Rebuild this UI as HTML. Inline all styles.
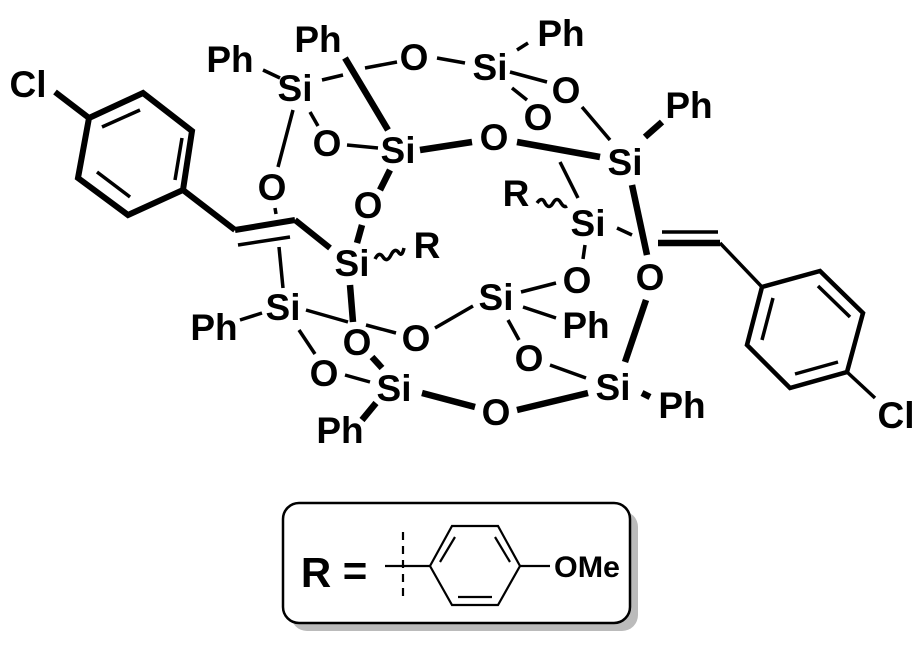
<!DOCTYPE html>
<html><head><meta charset="utf-8"><style>
html,body{margin:0;padding:0;background:#fff;}
svg{display:block;}
text{font-family:"Liberation Sans",sans-serif;font-weight:bold;fill:#000;text-anchor:middle;}
</style></head><body>
<svg width="923" height="645" viewBox="0 0 923 645" xmlns="http://www.w3.org/2000/svg">
<g stroke="#000" stroke-linecap="butt" fill="none">
<g stroke-width="6">
<line x1="55" y1="92" x2="89" y2="118"/>
<polyline points="89,118 143,93 192,131 183,190 128,215 78,178 89,118"/>
<line x1="183" y1="190" x2="235" y2="230"/>
<line x1="235" y1="230" x2="295" y2="220"/>
<line x1="295" y1="220" x2="330" y2="248"/>
</g>
<g stroke-width="3.5">
<line x1="102" y1="127" x2="140" y2="110"/>
<line x1="182" y1="138" x2="175" y2="180"/>
<line x1="97" y1="172" x2="130" y2="197"/>
<line x1="238" y1="245" x2="290" y2="237"/>
</g>
<g stroke-width="3.5">
<line x1="263" y1="70" x2="280" y2="78"/>
<line x1="322" y1="80" x2="343" y2="75"/>
<line x1="365" y1="68" x2="397" y2="62"/>
<line x1="310" y1="112" x2="318" y2="126"/>
<line x1="293" y1="110" x2="278" y2="167"/>
<line x1="347" y1="145" x2="378" y2="148"/>
<line x1="275" y1="208" x2="276" y2="214"/>
<line x1="279" y1="247" x2="283" y2="288"/>
<line x1="240" y1="320" x2="262" y2="313"/>
<line x1="306" y1="310" x2="348" y2="322"/>
<line x1="366" y1="325" x2="396" y2="333"/>
<line x1="299" y1="330" x2="315" y2="354"/>
<line x1="345" y1="375" x2="370" y2="382"/>
<line x1="435" y1="328" x2="473" y2="306"/>
<line x1="521" y1="292" x2="556" y2="283"/>
<line x1="523" y1="307" x2="556" y2="318"/>
<line x1="508" y1="320" x2="519" y2="340"/>
<line x1="550" y1="365" x2="586" y2="378"/>
<line x1="585" y1="245" x2="583" y2="259"/>
<line x1="560" y1="162" x2="578" y2="198"/>
<line x1="617" y1="228" x2="632" y2="235"/>
<line x1="582" y1="107" x2="610" y2="140"/>
<line x1="517" y1="50" x2="528" y2="43"/>
<line x1="510" y1="72" x2="547" y2="82"/>
<line x1="512" y1="88" x2="527" y2="100"/>
<line x1="437" y1="58" x2="465" y2="63"/>
<line x1="720" y1="243" x2="762" y2="287"/>
<line x1="662" y1="232" x2="718" y2="232"/>
<line x1="773" y1="298" x2="762" y2="340"/>
<line x1="818" y1="286" x2="850" y2="317"/>
<line x1="795" y1="374" x2="838" y2="362"/>
<line x1="847" y1="372" x2="875" y2="398"/>
</g>
<g stroke-width="4.5">
<polyline points="762,287 820,271 863,313 847,372 790,388 747,345 762,287"/>
</g>
<g stroke-width="6.5">
<line x1="345" y1="58" x2="388" y2="130"/>
<line x1="420" y1="150" x2="472" y2="142"/>
<line x1="390" y1="170" x2="380" y2="190"/>
<line x1="362" y1="225" x2="357" y2="243"/>
<line x1="350" y1="285" x2="353" y2="322"/>
<line x1="372" y1="357" x2="382" y2="368"/>
<line x1="376" y1="403" x2="362" y2="420"/>
<line x1="422" y1="393" x2="475" y2="407"/>
<line x1="517" y1="410" x2="588" y2="393"/>
<line x1="642" y1="393" x2="650" y2="397"/>
<line x1="625" y1="362" x2="646" y2="300"/>
<line x1="632" y1="185" x2="647" y2="255"/>
<line x1="517" y1="142" x2="600" y2="157"/>
<line x1="645" y1="137" x2="662" y2="122"/>
<line x1="658" y1="243" x2="720" y2="243"/>
</g>
<path d="M375,259 q4,-8 8,-2 q4,6 8,-2 q4,-8 8,-2 q3,4 5,-5" stroke-width="3.5"/>
<path d="M537,203 q5,-7 8,0 q4,7 8,0 q4,-7 8,0 q3,5 6,3" stroke-width="3.5"/>
</g>
<g font-size="37">
<text x="28" y="97">Cl</text>
<text x="230" y="72">Ph</text>
<text x="318" y="52">Ph</text>
<text x="295" y="101">Si</text>
<text x="414" y="70">O</text>
<text x="490" y="80">Si</text>
<text x="561" y="46">Ph</text>
<text x="566" y="103">O</text>
<text x="538" y="130">O</text>
<text x="327" y="156">O</text>
<text x="398" y="163">Si</text>
<text x="494" y="150">O</text>
<text x="625" y="175">Si</text>
<text x="689" y="118">Ph</text>
<text x="272" y="200">O</text>
<text x="368" y="218">O</text>
<text x="516" y="206">R</text>
<text x="588" y="236">Si</text>
<text x="352" y="276">Si</text>
<text x="427" y="258">R</text>
<text x="283" y="320">Si</text>
<text x="214" y="340">Ph</text>
<text x="357" y="355">O</text>
<text x="416" y="351">O</text>
<text x="496" y="310">Si</text>
<text x="577" y="293">O</text>
<text x="586" y="338">Ph</text>
<text x="529" y="371">O</text>
<text x="324" y="386">O</text>
<text x="394" y="401">Si</text>
<text x="340" y="443">Ph</text>
<text x="496" y="425">O</text>
<text x="613" y="400">Si</text>
<text x="682" y="418">Ph</text>
<text x="650" y="290">O</text>
<text x="896" y="428">Cl</text>
</g>
<rect x="291" y="511" width="347" height="120" rx="16" fill="#bbb"/>
<rect x="283" y="503" width="347" height="120" rx="16" fill="#fff" stroke="#000" stroke-width="2.5"/>
<text x="316" y="587" font-size="42">R</text>
<text x="355" y="585" font-size="42">=</text>
<g stroke="#000" stroke-width="2.2" fill="none">
<line x1="403" y1="532" x2="403" y2="602" stroke-dasharray="8,6"/>
<line x1="385" y1="566" x2="430" y2="566"/>
<polyline points="430,566 452,526 498,526 520,566 498,605 452,605 430,566"/>
<line x1="455" y1="537" x2="440" y2="562"/>
<line x1="495" y1="537" x2="510" y2="562"/>
<line x1="458" y1="597" x2="492" y2="597"/>
<line x1="520" y1="566" x2="550" y2="566"/>
</g>
<text x="587" y="577" font-size="30" textLength="66" lengthAdjust="spacingAndGlyphs">OMe</text>
</svg>
</body></html>
